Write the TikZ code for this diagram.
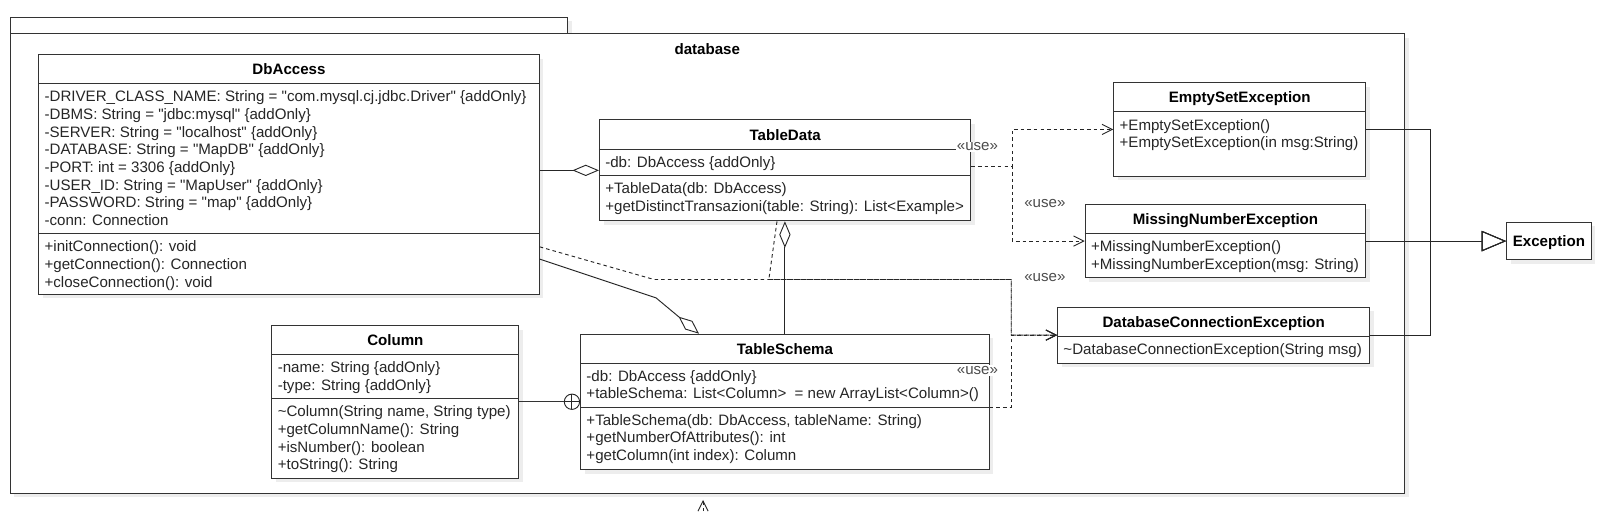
\documentclass[tikz,border=0pt]{standalone}
\usepackage{fontspec}
\setmainfont{Liberation Sans}[Ligatures=TeXOff]
\usetikzlibrary{arrows.meta, calc, shadows}

\tikzset{
  umlbox/.style={draw=black!80, line width=0.9pt, fill=white, anchor=north west, inner sep=0pt,
    drop shadow={shadow xshift=4pt, shadow yshift=-4pt, fill=black!7, opacity=1}},
  sepline/.style={draw=black!80, line width=0.9pt},
  umltitle/.style={font=\fontsize{14.8}{17.3}\selectfont\bfseries, inner sep=0pt, anchor=base},
  umltext/.style={font=\fontsize{14.8}{17.3}\selectfont, text=black!85, inner sep=0pt, anchor=base west},
  uselbl/.style={font=\fontsize{14.8}{17.3}\selectfont, text=black!70, fill=white, inner sep=1pt},
  usedep/.style={draw=black!85, line width=0.9pt, dash pattern=on 3.5pt off 3pt,
    -{Straight Barb[length=10pt,width=10pt]}},
  aggr/.style={draw=black!85, line width=0.9pt, -{Diamond[open,length=26pt,width=11pt]}},
  genl/.style={draw=black!85, line width=0.9pt, -{Triangle[open,length=24pt,width=20pt]}},
  nestc/.style={circle, draw=black!85, line width=0.9pt, fill=white, minimum size=15pt, inner sep=0pt,
    path picture={\draw[black!85, line width=0.9pt]
      (path picture bounding box.north) -- (path picture bounding box.south)
      (path picture bounding box.west) -- (path picture bounding box.east);}},
}

\begin{document}
\begin{tikzpicture}[x=1pt, y=-1pt]
  \useasboundingbox (0,0) rectangle (1568,501);

  % package
  \node[umlbox, minimum width=546.6pt, minimum height=16.4pt] (pkgtab) at (9.4,16.3) {};
  \node[umlbox, minimum width=1366.6pt, minimum height=450.3pt] (pkg) at (9.4,32.7) {};
  \node[umltitle] (pkgname) at ($(pkg.north)+(0,20.8)$) {database};

  % classes
  \node[umlbox, minimum width=490.5pt, minimum height=235pt] (dbaccess) at (37.5,53) {};
  \node[umlbox, minimum width=364pt, minimum height=99pt] (tdata) at (587,117) {};
  \node[umlbox, minimum width=400.5pt, minimum height=133pt] (tschema) at (568.5,327) {};
  \node[umlbox, minimum width=242pt, minimum height=149.5pt] (column) at (266,318.5) {};
  \node[umlbox, minimum width=247pt, minimum height=91.3pt] (emptyset) at (1091,80.7) {};
  \node[umlbox, minimum width=275pt, minimum height=71.6pt] (missing) at (1063,200) {};
  \node[umlbox, minimum width=306pt, minimum height=55pt] (dbconn) at (1036,300.5) {};
  \node[umlbox, minimum width=83pt, minimum height=37pt] (exception) at (1476,217.3) {};

  \foreach \cls/\off in {dbaccess/29, dbaccess/176, tdata/29, tdata/55, tschema/29, tschema/72,
      column/29, column/72.2, emptyset/29, missing/29, dbconn/29}
    \draw[sepline] ($(\cls.north west)+(0,\off)$) -- ($(\cls.north east)+(0,\off)$);

  \foreach \cls/\name in {dbaccess/DbAccess, tdata/TableData, tschema/TableSchema, column/Column,
      emptyset/EmptySetException, missing/MissingNumberException, dbconn/DatabaseConnectionException}
    \node[umltitle] (\cls-title) at ($(\cls.north)+(0,20.2)$) {\name};
  \node[umltitle] (exception-title) at ($(exception.center)+(0,5.2)$) {Exception};

  % members
  \foreach \t [count=\i from 0] in {-DRIVER\_CLASS\_NAME: String = "com.mysql.cj.jdbc.Driver" \{addOnly\},
      -DBMS: String = "jdbc:mysql" \{addOnly\}, -SERVER: String = "localhost" \{addOnly\},
      -DATABASE: String = "MapDB" \{addOnly\}, -PORT: int = 3306 \{addOnly\},
      -USER\_ID: String = "MapUser" \{addOnly\}, -PASSWORD: String = "map" \{addOnly\},
      -conn: Connection}
    \node[umltext] (dbaccess-a\i) at ($(dbaccess.north west)+(6,46.7+17.3*\i)$) {\t};
  \foreach \t [count=\i from 0] in {+initConnection(): void, +getConnection(): Connection,
      +closeConnection(): void}
    \node[umltext] (dbaccess-m\i) at ($(dbaccess.north west)+(6,193.7+17.3*\i)$) {\t};

  \node[umltext] (tdata-a0) at ($(tdata.north west)+(6,46.7)$) {-db: DbAccess \{addOnly\}};
  \foreach \t [count=\i from 0] in {+TableData(db: DbAccess),
      +getDistinctTransazioni(table: String): List<Example>}
    \node[umltext] (tdata-m\i) at ($(tdata.north west)+(6,72.7+17.3*\i)$) {\t};

  \foreach \t [count=\i from 0] in {-db: DbAccess \{addOnly\},
      +tableSchema: List<Column>\ \ = new ArrayList<Column>()}
    \node[umltext] (tschema-a\i) at ($(tschema.north west)+(6,46.7+17.3*\i)$) {\t};
  \foreach \t [count=\i from 0] in {{+TableSchema(db: DbAccess, tableName: String)},
      +getNumberOfAttributes(): int, +getColumn(int index): Column}
    \node[umltext] (tschema-m\i) at ($(tschema.north west)+(6,89.7+17.3*\i)$) {\t};

  \foreach \t [count=\i from 0] in {-name: String \{addOnly\}, -type: String \{addOnly\}}
    \node[umltext] (column-a\i) at ($(column.north west)+(6,46.7+17.3*\i)$) {\t};
  \foreach \t [count=\i from 0] in {{\textasciitilde Column(String name, String type)},
      +getColumnName(): String, +isNumber(): boolean, +toString(): String}
    \node[umltext] (column-m\i) at ($(column.north west)+(6,89.9+17.3*\i)$) {\t};

  \foreach \t [count=\i from 0] in {+EmptySetException(), +EmptySetException(in msg:String)}
    \node[umltext] (emptyset-m\i) at ($(emptyset.north west)+(6,46.7+17.3*\i)$) {\t};
  \foreach \t [count=\i from 0] in {+MissingNumberException(), +MissingNumberException(msg: String)}
    \node[umltext] (missing-m\i) at ($(missing.north west)+(6,46.7+17.3*\i)$) {\t};
  \node[umltext] (dbconn-m0) at ($(dbconn.north west)+(6,46.7)$) {\textasciitilde DatabaseConnectionException(String msg)};

  % aggregation
  \draw[aggr] (dbaccess.east |- tdata.west) -- (tdata.west);
  \draw[aggr] ($(dbaccess.south east)+(0,-35)$) -- ($(dbaccess.south east)+(114,3)$)
    -- ($(tschema.north west)+(116.5,0)$);
  \draw[aggr] (tschema.north) -- (tschema.north |- tdata.south);

  % nesting
  \node[nestc] (nest) at ($(tschema.west |- column.east)+(-8,0)$) {};
  \draw[sepline] (column.east) -- (nest.west);

  % use dependencies
  \draw[usedep] ($(dbaccess.south east)+(0,-47)$) -- ($(dbaccess.south east)+(112,-15)$)
    -| ($(dbconn.west)+(-45,0)$) -- (dbconn.west);
  \draw[usedep] ($(tdata.south)+(-8,0)$) -- ($(tdata.south)+(-16,57)$)
    -| ($(dbconn.west)+(-45,0)$) -- (dbconn.west);
  \draw[usedep] ($(tschema.north east)+(0,72)$) -| ($(dbconn.west)+(-45,0)$) -- (dbconn.west);
  \draw[usedep] ($(tdata.north east)+(0,46)$) -- ($(tdata.north east)+(40,46)$) |- (emptyset.west);
  \draw[usedep] ($(tdata.north east)+(0,46)$) -- ($(tdata.north east)+(40,46)$) |- (missing.west);

  \node[uselbl] (use1) at ($(tdata.north east)+(6,27)$) {«use»};
  \node[uselbl] (use2) at ($(missing.west)+(-39,-37)$) {«use»};
  \node[uselbl] (use3) at ($(dbconn.west)+(-12,-56.5)$) {«use»};
  \node[uselbl] (use4) at ($(tschema.north east)+(-12,36)$) {«use»};

  % generalization
  \draw[genl] (emptyset.east) -| ($(exception.west)+(-74,0)$) -- (exception.west);
  \draw[genl] (missing.east) -- (exception.west);
  \draw[genl] (dbconn.east) -| ($(exception.west)+(-74,0)$) -- (exception.west);

  % dependency from below
  \coordinate (extsrc) at (689,501);
  \draw[usedep] (extsrc) -- ($(pkg.south -| extsrc)+(0,6)$);
\end{tikzpicture}
\end{document}
